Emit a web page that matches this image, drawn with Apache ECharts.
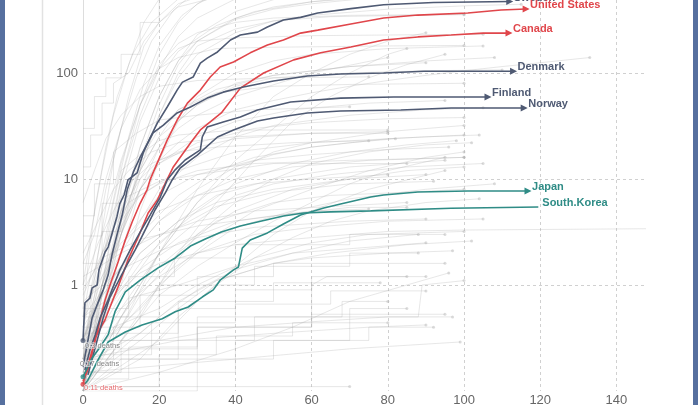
<!DOCTYPE html>
<html><head><meta charset="utf-8">
<script src="https://cdn.jsdelivr.net/npm/echarts@6/dist/echarts.min.js"></script>
<style>html,body{margin:0;padding:0;background:#fff}#c{width:698px;height:405px}</style>
</head><body><div id="c"></div>
<script>
// ---------- axis ticks ----------
const xTicks = [0, 20, 40, 60, 80, 100, 120, 140];
const yTicks = [1, 10, 100];

// ---------- highlighted countries: [days, deaths per million] ----------
const sweden = [[0,0.3],[0.5,0.68],[1.8,0.75],[2.4,0.94],[3.7,1.0],[4.2,1.39],[5.8,2.05],[6.6,2.28],[7.9,3.3],[8.9,4.4],[9.7,5.9],[10.8,7.1],[11.8,9.8],[14.2,11.4],[15.8,17.6],[17.6,24.4],[19.5,33.7],[22.1,47.8],[24.7,69],[26.1,82],[28.9,91.5],[30.8,124],[32.6,138],[35.3,158],[38.7,205],[41.3,228],[45.8,243],[48.4,272],[52.6,316],[57.1,335],[61.6,368],[70.3,405],[78.9,440],[92,462],[112,472]];
const unitedStates = [[0,0.116],[1.3,0.176],[3.2,0.30],[4.5,0.47],[5.8,0.72],[7.1,1.0],[9.2,1.65],[11.1,2.66],[12.9,3.93],[15,5.9],[16.8,7.9],[17.6,9.8],[19.5,14.2],[22.1,23.3],[24.7,36],[27.4,52],[30.8,69],[33.4,91.6],[36,114],[39.5,127],[43.9,155],[48.4,184],[52.6,205],[57.1,238],[61.6,254],[70.3,290],[78.9,330],[87.9,352],[101,368],[109.7,393],[116.3,402]];
const canada = [[0,0.124],[1.8,0.176],[3.2,0.32],[5.8,0.47],[6.6,0.56],[9.2,0.96],[11.8,1.72],[14.5,2.84],[17.1,4.78],[19.5,6.34],[21.1,8.4],[23.7,13],[28.2,21.9],[30.8,29],[36.3,42],[41.3,72],[47.4,100],[55.3,133],[62.4,155],[70.3,176],[78.9,205],[87.9,219],[96.6,228],[105,238],[111.8,238]];
const denmark = [[0,0.168],[1.3,0.30],[2.4,0.49],[3.7,0.65],[5.3,0.90],[6.6,1.24],[7.6,1.92],[8.9,2.96],[10.3,4.6],[11.6,7.9],[13.2,11.6],[15,16.1],[18.4,27.2],[21.1,32.3],[24.7,42],[28.2,47.8],[32.6,58],[36.8,66],[42.1,73.8],[50,84],[58.9,93.8],[67.6,98],[78.9,100],[89.5,104],[113,104]];
const finland = [[0.5,0.158],[1.8,0.244],[3.2,0.338],[4.5,0.49],[6.6,0.72],[7.6,0.90],[9.7,1.39],[12.4,2.14],[15,3.16],[17.6,4.57],[20.3,6.76],[22.1,9.8],[24.2,12.2],[26.8,15.1],[30,18],[30.8,18.8],[31.3,24.9],[32.6,30.9],[36.8,34.5],[41.3,38.4],[45.8,44.8],[54.5,53.2],[67.6,58],[81.6,59.3],[106.3,59.3]];
const norway = [[1.3,0.142],[3.7,0.30],[5.3,0.49],[7.1,0.77],[9.2,1.07],[11.1,1.45],[13.7,2.14],[16.3,3.3],[18.9,5.1],[21.6,7.4],[23.4,9.8],[25.5,12.7],[28.2,15.1],[30,16.8],[35.3,24.9],[39.5,29],[45.8,35.3],[50,37.6],[58.9,42],[67.6,43.8],[83.4,44.8],[96.6,46.8],[115.8,46.8]];
const japan = [[0,0.11],[1.3,0.127],[3.9,0.196],[6.6,0.29],[11.1,0.36],[15.5,0.42],[20.8,0.48],[24.2,0.56],[27.6,0.62],[31.3,0.77],[34.2,0.90],[36,1.11],[39.5,1.39],[40.8,1.48],[41.8,2.23],[43.9,2.66],[48.4,3.1],[52.6,3.76],[57.1,4.57],[63.2,5.33],[67.6,5.8],[75.5,6.76],[78.9,7.06],[87.9,7.54],[101,7.7],[116.8,7.7]];
const southKorea = [[0,0.136],[2.4,0.205],[4.5,0.26],[6.6,0.34],[8.4,0.56],[11.1,0.86],[15,1.11],[19.7,1.45],[24.2,1.8],[28.2,2.33],[32.1,2.72],[36.3,3.16],[41.3,3.6],[46.6,4.0],[52.6,4.48],[57.9,4.78],[65,4.9],[75.5,5.0],[96.6,5.3],[119.5,5.45]];

const highlightNames = ['Sweden','United States','Canada','Denmark','Finland','Norway','Japan','South.Korea'];
const highlightData = [sweden, unitedStates, canada, denmark, finland, norway, japan, southKorea];
const highlightGroup = ['dark','red','red','dark','dark','dark','teal','teal'];
const highlightArrow = [true,true,true,true,true,true,true,false];

// ---------- start markers ----------
const startDots = [[0,0.3],[0,0.136],[0,0.116]];
const startDotGroup = ['dark','teal','red'];
const startLabelPos = [[0,0.3],[0,0.17],[0,0.11]];
const startLabelText = ['0.3 deaths','0.17 deaths','0.11 deaths'];
const startLabelGroup = ['note','note','red'];

// ---------- background countries ----------
const grayLines = [
 [[0,0.5],[3,2],[6,8],[10,30],[14,90],[18,200],[24,400],[30,600]],
 [[0,0.2],[4,1],[8,6],[12,25],[16,80],[20,180],[26,350],[35,600]],
 [[0,0.3],[5,1.5],[10,10],[15,40],[20,110],[25,220],[30,330],[40,500],[50,600]],
 [[0,0.1],[6,0.8],[10,4],[15,20],[20,60],[25,130],[30,230],[40,380],[55,560]],
 [[0,1],[2,3],[5,12],[8,40],[12,120],[16,300],[20,500]],
 [[0,0.15],[5,1],[10,8],[15,35],[20,90],[25,160],[35,280],[45,380],[60,470],[80,560]],
 [[0,0.6],[3,5],[6,20],[9,60],[13,150],[18,300],[25,500]],
 [[0,0.2],[5,2],[10,14],[15,50],[20,120],[25,190],[30,240],[40,300],[50,330],[70,350],[90,355],[100,358]],
 [[0,0.3],[8,2],[14,10],[20,40],[25,100],[30,180],[40,260],[50,310],[65,340],[85,350],[100,355]],
 [[0,0.4],[5,3],[10,15],[15,50],[20,110],[25,170],[30,200],[40,215],[60,225],[90,230],[105,232]],
 [[0,1.6],[3,3],[6,10],[10,30],[15,70],[20,110],[25,140],[35,170],[50,175],[80,180],[100,182]],
 [[0,0.2],[10,1],[15,5],[20,15],[25,35],[30,60],[40,100],[50,130],[60,150],[80,170],[105,180]],
 [[0,0.1],[5,0.8],[10,4],[15,12],[20,25],[30,50],[40,80],[50,95],[70,115],[90,130],[108,140]],
 [[0,0.12],[5,0.5],[10,2],[15,8],[20,20],[25,35],[30,50],[40,75],[50,90],[70,100],[90,105],[110,107]],
 [[0,0.11],[5,1],[10,5],[15,15],[20,30],[25,45],[35,65],[50,75],[70,78],[100,80]],
 [[0,0.1],[10,0.5],[20,2],[30,8],[40,25],[50,60],[60,100],[70,150],[80,200],[90,240]],
 [[0,0.1],[10,0.4],[20,2],[30,6],[40,15],[50,30],[60,60],[70,100],[80,150],[85,170]],
 [[0,0.1],[15,0.5],[25,2],[35,6],[45,15],[55,35],[65,60],[75,90],[85,120],[95,150]],
 [[0,0.2],[5,1],[10,3],[15,10],[20,20],[25,30],[30,40],[40,60],[60,100],[80,140]],
 [[0,0.15],[5,0.8],[10,3],[15,8],[20,15],[25,22],[30,30],[40,45],[50,55],[60,65],[70,75],[80,85],[90,95],[100,105],[110,115],[120,125],[133,140]],
 [[0,0.2],[5,0.6],[10,2],[20,8],[30,16],[40,25],[50,32],[70,40],[90,45],[105,47]],
 [[0,0.1],[10,0.5],[20,2],[30,6],[40,12],[50,18],[60,22],[80,28],[100,32]],
 [[0,0.3],[5,1],[10,3],[15,8],[20,14],[30,22],[45,30],[60,34],[80,37],[100,38]],
 [[0,0.5],[5,2],[10,5],[15,10],[20,15],[30,20],[40,24],[60,27],[80,28]],
 [[0,0.2],[8,1],[15,3],[25,7],[35,12],[45,16],[60,20],[80,24],[100,26]],
 [[0,0.1],[10,0.3],[20,1],[30,3],[40,6],[50,10],[60,14],[75,18],[90,21],[102,22]],
 [[0,0.4],[3,1],[7,3],[12,6],[20,9],[30,12],[45,14],[70,15],[100,16]],
 [[0,0.15],[10,0.6],[20,2],[30,4],[40,7],[50,9],[65,11],[85,13],[105,14]],
 [[0,0.3],[5,0.8],[15,2],[25,4],[35,6],[50,8],[70,10],[90,11]],
 [[0,0.2],[10,0.4],[20,1],[30,2],[40,3.5],[55,5],[70,6.5],[90,8],[108,9]],
 [[0,0.12],[8,0.3],[15,0.8],[25,2],[35,4],[50,6],[65,7],[85,7.5],[100,8]],
 [[0,0.6],[5,1.2],[10,2.5],[20,5],[30,7],[45,9],[60,10],[80,11]],
 [[0,0.2],[15,0.6],[25,1.5],[35,3],[45,5],[60,8],[75,12],[90,16],[100,18]],
 [[0,1],[4,2.5],[8,5],[12,9],[18,14],[25,18],[35,20],[55,22],[75,23]],
 [[0,0.1],[20,0.3],[30,0.7],[40,1.5],[50,3],[60,5],[75,8],[95,12]],
 [[0,0.5],[10,1.5],[20,4],[30,8],[40,13],[50,17],[60,20],[70,22],[82,24]],
 [[0,0.15],[10,0.15],[10,0.3],[25,0.3],[25,0.6],[40,0.6],[40,0.9],[60,0.9],[60,1.2],[85,1.2]],
 [[0,0.4],[15,0.4],[15,0.8],[30,0.8],[30,1.2],[50,1.2],[50,1.6],[75,1.6],[95,1.6]],
 [[0,0.11],[20,0.11],[20,0.22],[35,0.22],[35,0.33],[55,0.33],[55,0.44],[80,0.44]],
 [[0,0.25],[5,0.5],[12,0.5],[12,0.75],[25,1],[40,1.5],[55,2],[70,2.2],[90,2.5]],
 [[0,0.2],[8,0.2],[8,0.4],[20,0.6],[30,1],[45,1.8],[60,2.5],[75,3],[100,3.2]],
 [[0,0.3],[10,0.6],[20,1.2],[30,2],[45,3],[60,3.5],[80,4],[105,4.2]],
 [[0,0.13],[12,0.13],[12,0.26],[30,0.26],[30,0.4],[60,0.4],[60,0.53],[95,0.53]],
 [[0,0.5],[20,0.5],[20,1],[45,1],[45,1.5],[70,1.5],[70,2],[88,2]],
 [[0,0.18],[15,0.35],[25,0.7],[35,1.1],[50,1.6],[65,2],[85,2.4],[102,2.6]],
 [[0,0.7],[10,1.4],[20,2.1],[30,2.8],[45,3.5],[70,4],[90,4.2]],
 [[0,0.1],[30,0.1],[30,0.2],[50,0.2],[50,0.3],[75,0.3],[75,0.4],[92,0.4]],
 [[0,0.35],[25,0.35],[25,0.7],[50,0.7],[50,1.05],[78,1.05]],
 [[0,0.12],[10,0.25],[20,0.5],[30,0.9],[40,1.4],[55,2],[70,2.6],[88,3]],
 [[0,0.22],[18,0.22],[18,0.44],[40,0.44],[40,0.66],[65,0.66],[65,0.88],[90,0.88]],
 [[0,1.2],[10,2],[20,3],[30,4],[45,5],[65,5.5],[85,6]],
 [[0,0.9],[5,1.8],[15,2.7],[30,3.6],[50,4.5],[70,5.4],[85,5.4]],
 [[0,0.3],[5,0.6],[10,0.9],[15,1.3],[20,1.6],[30,2],[40,2.4],[50,2.6],[60,2.8],[80,3.2],[100,3.3],[150,3.4]],
 [[0,0.2],[30,0.2],[30,0.4],[60,0.4],[60,1],[64,1.2],[90,1.2]],
 [[0,0.15],[40,0.15],[40,0.3],[70,0.3],[70,0.6],[85,0.6]],
 [[0,0.6],[12,0.6],[12,1.2],[24,1.2],[24,1.8],[40,1.8],[40,2.4],[70,2.4],[70,3],[95,3]],
 [[0,30],[3,30],[3,60],[6,60],[6,90],[10,90],[10,150],[15,150],[15,300],[20,300],[20,600]],
 [[0,13],[2,13],[2,26],[5,26],[5,52],[8,52],[8,80],[12,100],[16,200],[20,300],[25,450],[35,600]],
 [[0,2.9],[5,2.9],[5,5.9],[10,5.9],[10,12],[15,17],[20,23],[25,26],[40,29],[60,29],[80,29]],
 [[0,1.6],[5,1.6],[5,3.2],[10,3.2],[10,6.4],[20,9.5],[30,11],[50,14],[70,14],[85,14]],
 [[0,4.5],[3,4.5],[3,9],[8,9],[8,18],[14,27],[20,36],[30,40],[45,45],[70,48]],
 [[0,2],[4,4],[8,8],[12,12],[18,18],[25,22],[40,25],[60,27],[80,27]],
 [[0,6],[3,12],[6,24],[10,40],[15,60],[20,75],[30,85],[50,90],[75,92]],
 [[0,0.1],[5,1],[10,10],[15,50],[20,150],[25,300],[30,450],[40,650],[60,800],[90,840]],
 [[0,0.2],[4,2],[8,15],[12,60],[16,180],[20,300],[25,420],[35,520],[50,560],[70,580]],
 [[0,0.1],[5,0.5],[10,3],[15,15],[20,50],[25,120],[30,200],[40,330],[50,420],[60,470],[80,530],[100,560]],
 [[0,0.1],[5,0.8],[10,5],[15,20],[20,60],[25,130],[30,200],[40,320],[50,400],[60,450],[80,530],[100,600]],
 [[0,0.1],[5,0.6],[10,3],[15,12],[20,40],[25,90],[30,150],[40,240],[50,310],[60,350],[80,400],[100,430],[115,445]],
 [[0,0.3],[20,0.3],[40,0.4],[60,0.45],[80,0.5],[88,0.5],[89,1],[100,1.1]],
 [[0,0.25],[30,0.25],[30,0.5],[70,0.5],[97,0.5]],
 [[0,0.2],[25,0.3],[50,0.35],[75,0.4],[90,0.42]],
 [[0,0.15],[40,0.2],[70,0.25],[99,0.29]],
 [[0,0.11],[10,0.11],[60,0.11],[70,0.11]],
 [[0,0.5],[8,0.8],[16,1.5],[25,2.5],[40,4],[60,5],[75,5.2]],
 [[0,0.2],[5,0.5],[10,1],[15,2],[25,4],[35,7],[50,10],[70,13],[95,15]],
 [[0,0.8],[5,2],[10,4],[15,7],[25,12],[40,18],[60,22],[90,25],[104,26]],
 [[0,0.1],[10,0.3],[20,0.8],[30,1.5],[40,2.5],[50,4],[60,6],[70,9],[80,12],[95,16]],
 [[0,0.2],[10,0.8],[20,2.5],[30,5],[40,9],[55,14],[70,18],[85,21],[98,23]],
 [[0,0.3],[6,1],[12,3],[20,7],[30,11],[45,15],[60,17],[80,19],[96,20]],
 [[0,0.15],[10,0.5],[20,1.5],[30,3],[40,5],[55,8],[70,10],[85,12],[100,13]],
 [[0,0.1],[15,0.2],[25,0.5],[35,1],[45,1.8],[55,2.8],[65,4],[75,5],[90,6],[104,6.5]],
 [[0,0.25],[8,0.7],[16,1.8],[25,3.5],[35,5.5],[50,7.5],[70,9],[92,9.5]],
 [[0,0.4],[10,1.5],[20,4],[30,7],[40,10],[55,13],[75,15],[100,16]],
 [[0,0.12],[15,0.3],[25,0.6],[35,1.1],[50,1.6],[60,1.8],[80,2],[97,2.1]],
 [[0,0.1],[20,0.15],[40,0.25],[55,0.4],[70,0.7],[85,1],[96,1.3]],
 [[0,0.3],[5,1.2],[10,3.5],[15,8],[20,14],[30,25],[40,35],[55,45],[75,52],[95,55]],
 [[0,0.2],[5,1],[10,4],[15,12],[20,25],[25,45],[35,70],[50,95],[70,115],[90,125]],
 [[0,0.1],[10,0.2],[25,0.2],[25,0.3],[45,0.3],[45,0.5],[68,0.5],[68,0.7],[80,0.7]]
];

const COLORS = {dark:'#4f5a73', red:'#e0464b', teal:'#2f8c86', note:'#666666'};

const series = [];
grayLines.forEach(g => series.push({
  type:'line', data:g, symbol:'none', silent:true, animation:false, z:1,
  lineStyle:{color:'rgba(170,170,170,0.28)', width:1}
}));
series.push({
  type:'scatter', data:grayLines.map(g => g[g.length-1]), symbolSize:3, silent:true, animation:false, z:1,
  itemStyle:{color:'rgba(175,175,175,0.55)'}
});

highlightNames.forEach((name, i) => {
  const color = COLORS[highlightGroup[i]];
  const raw = highlightData[i];
  const data = raw.map((p, j) => (j === raw.length - 1 && highlightArrow[i])
    ? {value:p, symbol:'triangle', symbolSize:7, symbolRotate:-90, itemStyle:{color:color}}
    : p);
  series.push({
    type:'line', name:name, data:data, symbol:'none', showSymbol:true, showAllSymbol:true,
    silent:true, animation:false, z:3,
    lineStyle:{color:color, width:1.6}, itemStyle:{color:color},
    endLabel:{show:true, formatter:name, color:color, fontSize:11, fontWeight:'bold',
      fontFamily:'Liberation Sans, Arial, sans-serif', distance:4, offset:[0,-4]}
  });
});

series.push({
  type:'scatter', silent:true, animation:false, z:4, symbolSize:5,
  data:startDots.map((p,i)=>({value:p, itemStyle:{color:COLORS[startDotGroup[i]]}}))
});
const labelOffsets = [[2,6],[-3,-3],[1,1]];
series.push({
  type:'scatter', silent:true, animation:false, z:5, symbolSize:0,
  data:startLabelPos.map((p,i)=>({value:p, label:{show:true, formatter:startLabelText[i], position:'right', distance:0,
    offset:labelOffsets[i], color:COLORS[startLabelGroup[i]], fontSize:7.5, fontFamily:'Liberation Sans, Arial, sans-serif',
    textBorderColor:'rgba(255,255,255,0.9)', textBorderWidth:1.5}}))
});

const chart = echarts.init(document.getElementById('c'), null, {renderer:'canvas', width:698, height:405});
chart.setOption({
  backgroundColor:'#ffffff',
  animation:false,
  grid:{left:83, right:53, top:0, bottom:14, containLabel:false, outerBoundsMode:'none'},
  xAxis:{
    type:'value', min:0, max:147.5, interval:20,
    axisLine:{show:false}, axisTick:{show:false},
    axisLabel:{color:'#666', fontSize:13, margin:3, fontFamily:'Liberation Sans, Arial, sans-serif',
      showMaxLabel:false, formatter:v => xTicks.indexOf(v) >= 0 ? String(v) : ''},
    splitLine:{show:true, showMaxLine:false, showMinLine:false, lineStyle:{color:'#d0d0d0', type:[3,3], width:1}}
  },
  yAxis:{
    type:'log', logBase:10, min:0.1, max:488.4,
    axisLine:{show:true, lineStyle:{color:'#dddddd', width:1}}, axisTick:{show:false},
    axisLabel:{color:'#666', fontSize:13, margin:5, fontFamily:'Liberation Sans, Arial, sans-serif',
      showMinLabel:false, showMaxLabel:false,
      formatter:v => { const r = Math.round(v); return (yTicks.indexOf(r) >= 0 && Math.abs(v - r) < 1e-6 * r + 1e-9) ? String(r) : ''; }},
    splitLine:{show:true, showMinLine:false, showMaxLine:false, lineStyle:{color:'#d0d0d0', type:[3,3], width:1}}
  },
  graphic:[
    {type:'rect', shape:{x:0,y:0,width:5,height:405}, style:{fill:'#56709f'}, z:100},
    {type:'rect', shape:{x:693,y:0,width:5,height:405}, style:{fill:'#56709f'}, z:100},
    {type:'line', shape:{x1:42.5,y1:0,x2:42.5,y2:405}, style:{stroke:'#e2e2e2', lineWidth:1.5}, z:0}
  ],
  series:series
});
</script>
</body></html>
